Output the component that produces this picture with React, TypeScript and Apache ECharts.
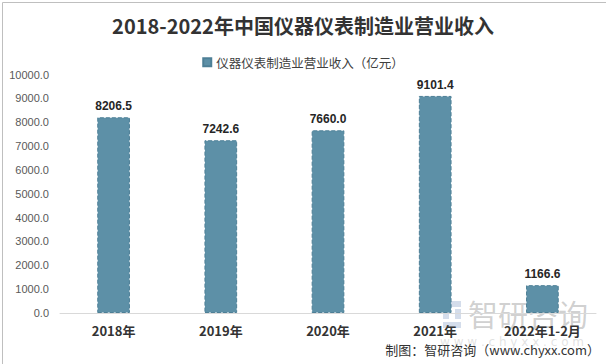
import React, { useEffect, useRef } from "react";
import * as echarts from "echarts";

const categories = ["2018年", "2019年", "2020年", "2021年", "2022年1-2月"];
const revenue = [8206.5, 7242.6, 7660.0, 9101.4, 1166.6];
const seriesName = "仪器仪表制造业营业收入（亿元）";
const titleText = "2018-2022年中国仪器仪表制造业营业收入";
const sourceText = "制图：智研咨询（www.chyxx.com）";

export default function App() {
  const ref = useRef<HTMLDivElement>(null);
  useEffect(() => {
    document.body.style.margin = "0";
    const chart = echarts.init(ref.current!, null, { renderer: "svg" });
    const cjk = "'Noto Sans CJK SC', 'Noto Sans', sans-serif";
    chart.setOption({
      animation: false,
      backgroundColor: "#ffffff",
      title: {
        text: titleText,
        left: "center",
        top: 10,
        textStyle: { fontSize: 20, fontWeight: "bold", color: "#333333", fontFamily: cjk },
      },
      legend: {
        top: 51,
        left: "center",
        icon: "rect",
        itemWidth: 8,
        itemHeight: 8,
        itemGap: 6,
        textStyle: { fontSize: 12.5, color: "#404040", fontFamily: cjk },
        data: [seriesName],
      },
      grid: { left: 60, right: 10, top: 74.5, bottom: 51, containLabel: false },
      xAxis: {
        type: "category",
        data: categories,
        axisLine: { show: true, lineStyle: { color: "#d9d9d9", width: 1 } },
        axisTick: { show: false },
        axisLabel: {
          margin: 11,
          fontSize: 13,
          fontWeight: "bold",
          color: "#333333",
          fontFamily: cjk,
        },
      },
      yAxis: {
        type: "value",
        min: 0,
        max: 10000,
        interval: 1000,
        axisLine: { show: false },
        axisTick: { show: false },
        splitLine: { show: false },
        axisLabel: {
          margin: 11,
          fontSize: 11,
          color: "#595959",
          fontFamily: "'Liberation Sans', Arial, sans-serif",
          formatter: (v: number) => v.toFixed(1),
        },
      },
      series: [
        {
          name: seriesName,
          type: "bar",
          data: revenue,
          barWidth: "30.5%",
          itemStyle: {
            color: "#5d90a7",
            borderColor: "#4d7f96",
            borderWidth: 1,
            borderType: "dashed",
          },
          label: {
            show: true,
            position: "top",
            distance: 5,
            fontSize: 12,
            fontWeight: "bold",
            color: "#262626",
            fontFamily: "'Liberation Sans', Arial, sans-serif",
            formatter: (p: any) => Number(p.value).toFixed(1),
          },
        },
      ],
      graphic: [
        {
          type: "rect",
          left: 0,
          top: 0,
          shape: { x: 0.5, y: 0.5, width: 605, height: 363 },
          style: { fill: "none", stroke: "#bfbfbf", lineWidth: 1 },
          silent: true,
          z: 100,
        },
        {
          type: "group",
          z: 50,
          silent: true,
          children: [
            { type: "rect", shape: { x: 443, y: 301, width: 6, height: 18 }, style: { fill: "rgba(160,180,210,0.45)" } },
            { type: "rect", shape: { x: 451, y: 301, width: 10, height: 6 }, style: { fill: "rgba(160,180,210,0.45)" } },
            { type: "rect", shape: { x: 455, y: 309, width: 6, height: 10 }, style: { fill: "rgba(160,180,210,0.45)" } },
            { type: "rect", shape: { x: 443, y: 322, width: 18, height: 6 }, style: { fill: "rgba(160,180,210,0.45)" } },
            {
              type: "text",
              x: 468,
              y: 298,
              style: {
                text: "智研咨询",
                font: "30px 'Noto Sans CJK SC', sans-serif",
                fill: "rgba(150,150,150,0.45)",
              },
            },
            {
              type: "text",
              x: 440,
              y: 336,
              style: {
                text: "w w w . c h y x x . c o m",
                font: "12px 'DejaVu Sans', sans-serif",
                fill: "rgba(170,170,170,0.35)",
              },
            },
          ],
        },
        {
          type: "text",
          right: 6,
          top: 343,
          style: {
            text: sourceText,
            font: "13px 'Noto Sans CJK SC', sans-serif",
            fill: "#333333",
          },
          z: 60,
        },
      ],
    });
    return () => chart.dispose();
  }, []);
  return <div ref={ref} style={{ width: 606, height: 364 }} />;
}
